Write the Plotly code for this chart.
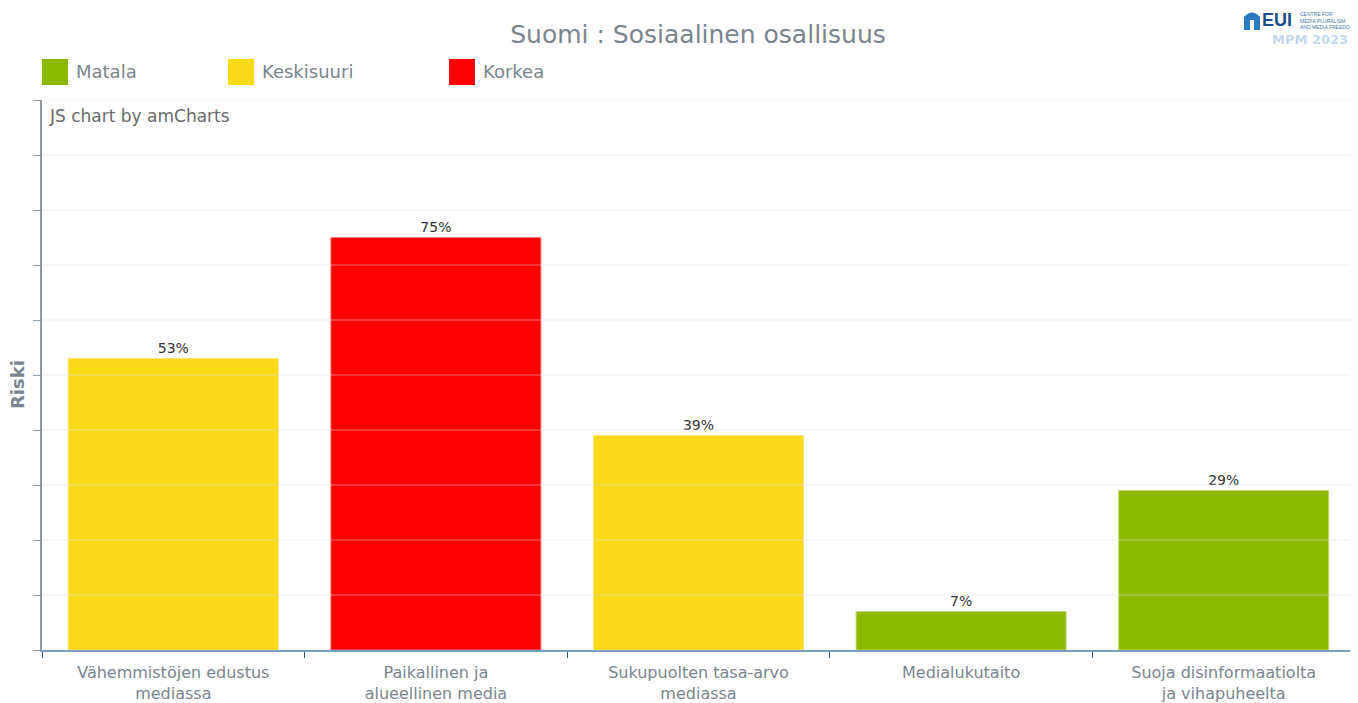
import plotly.graph_objects as go

categories = ["Vähemmistöjen edustus<br>mediassa", "Paikallinen ja<br>alueellinen media",
              "Sukupuolten tasa-arvo<br>mediassa", "Medialukutaito",
              "Suoja disinformaatiolta<br>ja vihapuheelta"]
values = [53, 75, 39, 7, 29]
levels = ["Keskisuuri", "Korkea", "Keskisuuri", "Matala", "Matala"]
legend_names = ["Matala", "Keskisuuri", "Korkea"]
grid_values = [10, 20, 30, 40, 50, 60, 70, 80, 90, 100]
level_colors = {"Matala": "#8cb900", "Keskisuuri": "#fada18", "Korkea": "#ff0000"}
line_colors = {"Matala": "#c7d97a", "Keskisuuri": "#fbe47a", "Korkea": "#ff8080"}

FONT = "DejaVu Sans"
GRAY = "#7b858f"

fig = go.Figure()
fig.add_trace(go.Bar(
    x=categories, y=values,
    marker=dict(color=[level_colors[l] for l in levels],
                line=dict(color=[line_colors[l] for l in levels], width=1)),
    width=0.8,
    text=[f"{v}%" for v in values], textposition="outside",
    textfont=dict(family=FONT, size=14, color="#333333"),
    cliponaxis=False, showlegend=False,
))

OFF = 8  # page body margin
W, H = 1358 - OFF, 703 - OFF
# plot area in page pixels: x 42..1355, y 100..650
L, R, T, B = 42 - OFF, W - (1355 - OFF), 100 - OFF, H - (650 - OFF)
pw, ph = W - L - R, H - T - B
def px(x): return (x - OFF - L) / pw
def py(y): return (H - B - (y - OFF)) / ph

shapes = []
annotations = []
# gridlines drawn over the bars (semi-transparent, as in the reference)
for g in grid_values:
    shapes.append(dict(type="line", xref="paper", yref="y", x0=0, x1=1, y0=g, y1=g,
                       line=dict(color="rgba(225,225,225,0.5)", width=1), layer="above"))
# custom legend
leg_x = [42, 228, 449]
for name, x0 in zip(legend_names, leg_x):
    shapes.append(dict(type="rect", xref="paper", yref="paper",
                       x0=px(x0), x1=px(x0 + 26), y0=py(85), y1=py(59),
                       fillcolor=level_colors[name], line=dict(width=0)))
    annotations.append(dict(text=name, xref="paper", yref="paper", x=px(x0 + 32), y=py(72),
                            xanchor="left", yanchor="middle", showarrow=False,
                            font=dict(family=FONT, size=18, color=GRAY)))

annotations.append(dict(text="JS chart by amCharts", xref="paper", yref="paper",
                        x=px(47), y=py(116), xanchor="left", yanchor="middle", showarrow=False,
                        font=dict(family=FONT, size=17, color="#6b6b6b")))

# logo approximation (kept fully inside the page)
LX = 1244
shapes.append(dict(type="path", xref="paper", yref="paper",
                   path=f"M {px(LX)} {py(30)} L {px(LX)} {py(17)} Q {px(LX+8)} {py(8)} {px(LX+16)} {py(17)} L {px(LX+16)} {py(30)} Z",
                   fillcolor="#2a7bc4", line=dict(width=0)))
shapes.append(dict(type="rect", xref="paper", yref="paper",
                   x0=px(LX+6), x1=px(LX+10), y0=py(30), y1=py(20),
                   fillcolor="white", line=dict(width=0)))
annotations.append(dict(text="<b>EUI</b>", xref="paper", yref="paper", x=px(LX+17), y=py(9),
                        xanchor="left", yanchor="top", showarrow=False, borderpad=0,
                        font=dict(family="Liberation Sans", size=18, color="#1f4e8a")))
annotations.append(dict(text="CENTRE FOR<br>MEDIA PLURALISM<br>AND MEDIA FREEDOM", xref="paper", yref="paper",
                        x=px(LX+55), y=py(10), xanchor="left", yanchor="top", showarrow=False, align="left",
                        borderpad=0,
                        font=dict(family="Liberation Sans", size=5, color="#4a78a8")))
annotations.append(dict(text="<b>MPM 2023</b>", xref="paper", yref="paper", x=px(LX+26), y=py(40),
                        xanchor="left", yanchor="middle", showarrow=False,
                        font=dict(family="DejaVu Sans", size=13, color="#c5d9ee")))

# y axis title
annotations.append(dict(text="<b>Riski</b>", xref="paper", yref="paper", x=px(17), y=py(385),
                        xanchor="center", yanchor="middle", textangle=-90, showarrow=False,
                        font=dict(family=FONT, size=18, color=GRAY)))

fig.update_layout(
    width=W, height=H,
    margin=dict(l=L, r=R, t=T, b=B, autoexpand=False),
    paper_bgcolor="white", plot_bgcolor="white",
    title=dict(text="Suomi : Sosiaalinen osallisuus", x=(698 - OFF) / W, xanchor="center",
               y=1 - (34 - OFF) / H, yanchor="middle",
               font=dict(family=FONT, size=25, color=GRAY)),
    showlegend=False,
    shapes=shapes, annotations=annotations,
    bargap=0.2,
    xaxis=dict(showgrid=False, showline=True, linecolor="#7d9fbe", linewidth=1.5,
               ticks="outside", tickson="boundaries", ticklen=6, tickcolor="#2f5f8c",
               ticklabelstandoff=7,
               tickfont=dict(family=FONT, size=16, color=GRAY), fixedrange=True),
    yaxis=dict(range=[0, 100], dtick=10, showticklabels=False, showgrid=False,
               showline=True, linecolor="#8e9aa6", linewidth=1.5, ticks="outside", ticklen=7,
               tickcolor="#8e9aa6", zeroline=False, fixedrange=True),
)

fig.write_html("out.html")
